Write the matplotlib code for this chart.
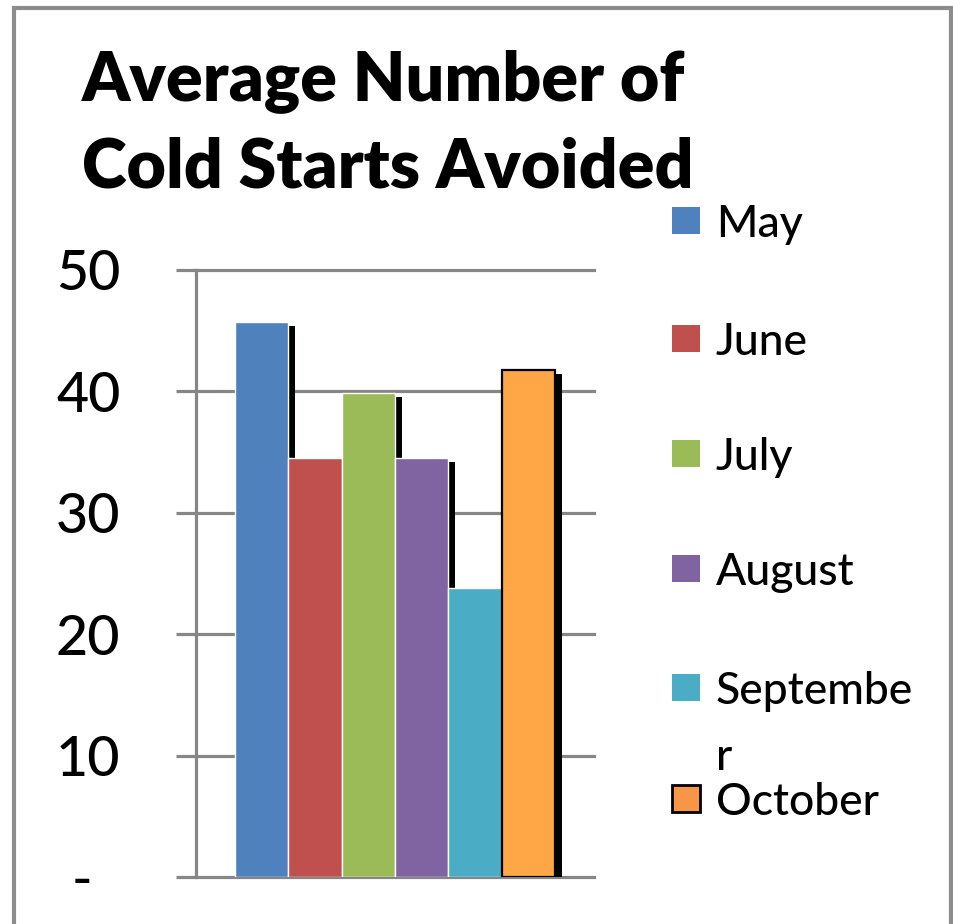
import matplotlib
matplotlib.use("Agg")
import matplotlib.pyplot as plt
from matplotlib.patches import Rectangle

# --- data ---------------------------------------------------------------
months = ["May", "June", "July", "August", "September", "October"]
legend_labels = ["May", "June", "July", "August", "Septembe\nr", "October"]
avoided = [45.7, 34.5, 39.9, 34.5, 23.8, 41.8]
colors = ["#4F81BD", "#C0504D", "#9BBB59", "#8064A2", "#4BACC6", "#F79646"]
bar_colors = colors[:5] + ["#FFA646"]
y_ticks = [0, 10, 20, 30, 40, 50]
y_tick_labels = ["-  ", "10", "20", "30", "40", "50"]

FONT = "Lato"
W, H = 954, 924
fig = plt.figure(figsize=(W / 100, H / 100), dpi=100)
fig.patch.set_facecolor("white")

def fx(px):
    return px / W

def fy(py):
    return 1 - py / H

# outer chart frame
fig.add_artist(Rectangle((fx(14), fy(940)), fx(951) - fx(14), fy(8) - fy(940),
                         transform=fig.transFigure, fill=False,
                         edgecolor="#8C8C8C", linewidth=3))

ax = fig.add_axes([fx(196), fy(877), fx(594) - fx(196), fy(270) - fy(877)])
x = list(range(len(months)))

# drop shadows behind the bars
dx, dy = 0.13, 0.33
ax.bar([v + dx for v in x], [v - dy for v in avoided], width=1, bottom=0,
       color="black", linewidth=0, zorder=2)

bars = ax.bar(x, avoided, width=1, color=bar_colors, edgecolor="white",
              linewidth=1, zorder=3)
bars[-1].set_edgecolor("black")
bars[-1].set_linewidth(1.6)

ax.set_xlim(-1.231, 6.231)
ax.set_ylim(0, 50)
ax.set_yticks(y_ticks)
ax.set_yticklabels(y_tick_labels, fontsize=40, family=FONT, fontweight="medium")
ax.set_xticks([])
ax.yaxis.grid(True, color="#868686", linewidth=2.3, zorder=1)
ax.set_axisbelow(True)
ax.tick_params(axis="y", length=14.4, width=2.3, color="#868686", pad=40)
for s in ["top", "right", "bottom"]:
    ax.spines[s].set_visible(False)
ax.spines["left"].set_color("#868686")
ax.spines["left"].set_linewidth(2.3)
for gl in ax.get_ygridlines():
    gl.set_clip_on(False)

# title
fig.text(fx(82), fy(100), "Average Number of", fontsize=49, fontweight="heavy",
         family=FONT, va="baseline", ha="left")
fig.text(fx(82), fy(188), "Cold Starts Avoided", fontsize=49, fontweight="heavy",
         family=FONT, va="baseline", ha="left")

# legend: each line of a label sits on its own baseline
baselines = [237, 355, 470, 585, 704, 815]
line_step = 66
for lab, col, base in zip(legend_labels, colors, baselines):
    edge = "black" if lab == "October" else col
    lw = 2 if lab == "October" else 0
    fig.add_artist(Rectangle((fx(672), fy(base - 3)), fx(28), 27 / H,
                             transform=fig.transFigure, facecolor=col,
                             edgecolor=edge, linewidth=lw))
    for i, line in enumerate(lab.split("\n")):
        fig.text(fx(716), fy(base + i * line_step), line, fontsize=32,
                 family=FONT, fontweight="medium", va="baseline", ha="left")

fig.savefig("out.png", dpi=100)
